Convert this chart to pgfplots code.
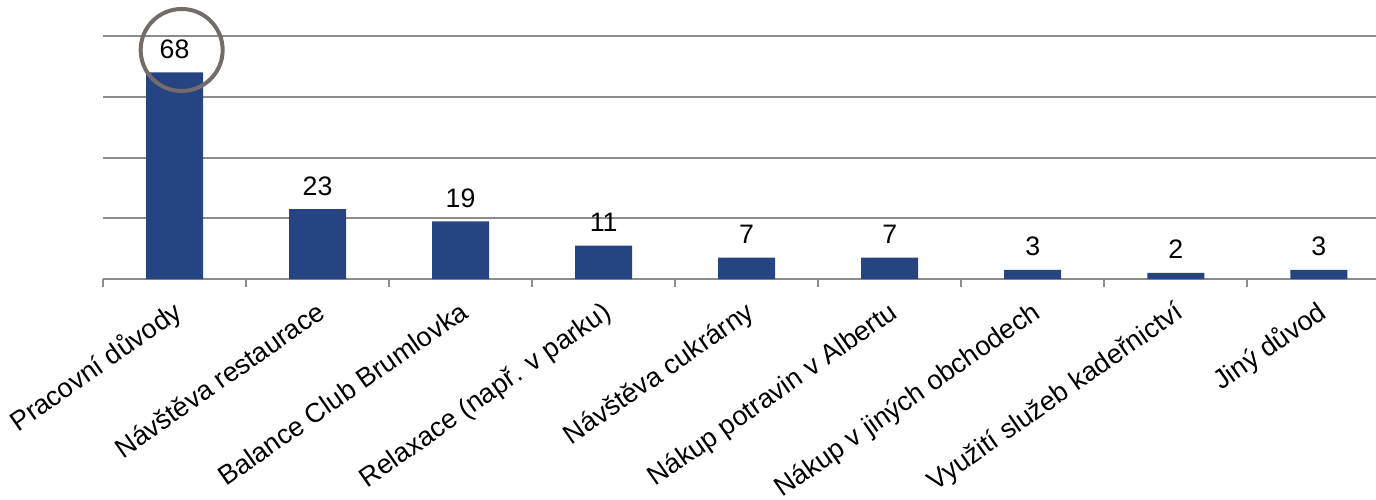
\documentclass[border=0pt]{standalone}
\usepackage{pgfplots}
\pgfplotsset{compat=1.18}
\usepackage{fontspec}
\setmainfont{Liberation Sans}
\definecolor{barblue}{RGB}{38,68,130}
\definecolor{gridgray}{RGB}{140,140,140}
\definecolor{circgray}{RGB}{115,108,104}
\begin{document}
\begin{tikzpicture}
\useasboundingbox (0,0) rectangle (688bp,250bp);
\begin{axis}[
  at={(51.5bp,110.5bp)}, anchor=south west,
  scale only axis, width=636.5bp, height=121.5bp,
  xmin=-0.5, xmax=8.4, ymin=0, ymax=80,
  clip=false,
  /pgf/number format/assume math mode=true,
  axis x line*=bottom,
  axis y line*=left,
  x axis line style={-, gridgray, line width=1bp},
  y axis line style={draw=none},
  ytick={0,20,40,60,80}, yticklabels={},
  ytick style={draw=none},
  ymajorgrids,
  grid style={gridgray, line width=1bp},
  major tick length=0pt,
  xtick={0,...,8},
  xticklabels={Pracovní důvody, Návštěva restaurace, Balance Club Brumlovka, Relaxace (např. v parku), Návštěva cukrárny, Nákup potravin v Albertu, Nákup v jiných obchodech, Využití služeb kadeřnictví, Jiný důvod},
  xtick style={gridgray, line width=1bp},
  extra x ticks={-0.5,0.5,1.5,2.5,3.5,4.5,5.5,6.5,7.5},
  extra x tick labels={},
  extra x tick style={major tick length=4bp, tick align=outside, grid=none},
  xticklabel style={xshift=3.2bp, yshift=-16.5bp, rotate=35, anchor=east, inner sep=0pt, text height=0.72em, text depth=0.2em, font=\fontsize{13.6}{16}\selectfont},
  ybar, bar width=28.5bp,
  nodes near coords,
  every node near coord/.append style={anchor=base, yshift=7bp, inner sep=0pt, text=black, font=\fontsize{13.4}{16}\selectfont},
]
\addplot[fill=barblue, draw=none] coordinates {(0,68) (1,23) (2,19) (3,11) (4,7) (5,7) (6,3) (7,2) (8,3)};
\draw[circgray, line width=2bp] (axis cs:0.05,75.4) circle[radius=20.5bp];
\end{axis}
\end{tikzpicture}
\end{document}
